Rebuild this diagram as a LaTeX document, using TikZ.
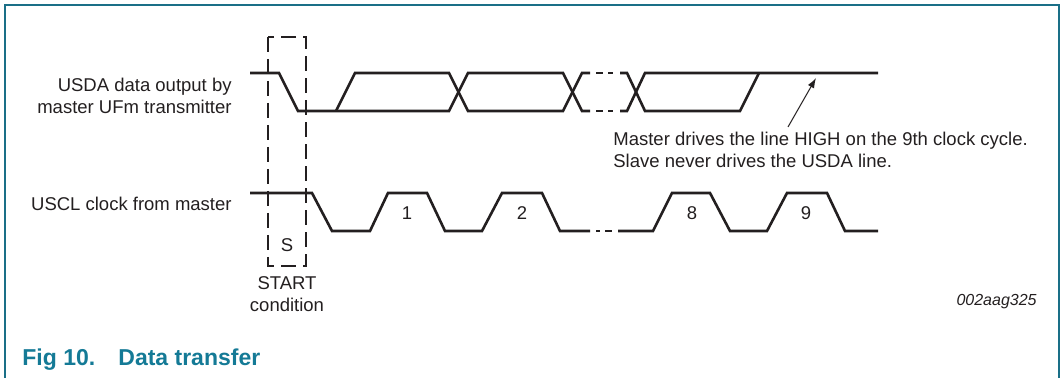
\documentclass[tikz,border=0pt]{standalone}
\usepackage{fontspec}
\setmainfont{Liberation Sans}
\usepackage{xcolor}
\usepackage{tikz}
\usetikzlibrary{arrows.meta, calc}
\definecolor{framecol}{RGB}{26,111,135}
\definecolor{titlecol}{RGB}{20,122,150}
\definecolor{inkcol}{RGB}{35,31,32}
\tikzstyle{signal} = [line width=1.3pt, draw=inkcol, line join=miter]
\tikzstyle{startbox} = [line width=0.6pt, draw=inkcol, dash pattern=on 7.5pt off 3.5pt]
\tikzstyle{legende} = [inner sep=0pt, text=inkcol, font=\fontsize{9.25}{11}\selectfont]
\tikzstyle{titre} = [inner sep=0pt, anchor=base west, text=titlecol, font=\fontsize{11.5}{13}\selectfont\bfseries]

\begin{document}
\begin{tikzpicture}[x=0.5pt, y=-0.5pt]
    \useasboundingbox (0,0) rectangle (1061,378);
    \draw[line width=0.7pt, framecol] (5,378) -- (5,5) -- (1059,5) -- (1059,378);

    % labels
    \node (sdalabel) [legende, anchor=east, align=right] at (232,96) {USDA data output by\\master UFm transmitter};
    \node (scllabel) [legende, anchor=east] at (232,204) {USCL clock from master};

    % USDA
    \draw[signal] (250,73) -- (279,73) -- (298,111) -- (449,111) -- (468,73) -- (563,73) -- (582,111) -- (590,111);
    \draw[signal] (336,111) -- (355,73) -- (449,73) -- (468,111) -- (563,111) -- (582,73) -- (590,73);
    \draw[signal] (596,73) -- (603,73) (608,73) -- (613,73) (596,111) -- (603,111) (608,111) -- (613,111);
    \draw[signal] (620,111) -- (627,111) -- (645,73) -- (878,73);
    \draw[signal] (620,73) -- (627,73) -- (645,111) -- (740,111) -- (759,73);

    % USCL
    \draw[signal] (250,193) -- (312,193) -- (332,231) -- (370,231) -- (388,193) -- (427,193) -- (445,231) -- (482,231) -- (502,193) -- (542,193) -- (560,231) -- (590,231);
    \draw[signal] (596,231) -- (600,231) (605,231) -- (612,231);
    \draw[signal] (618,231) -- (653,231) -- (672,193) -- (710,193) -- (730,231) -- (767,231) -- (787,193) -- (827,193) -- (845,231) -- (878,231);

    \node (bit1) [legende] at (407,213) {1};
    \node (bit2) [legende] at (522,213) {2};
    \node (bit8) [legende] at (692,213) {8};
    \node (bit9) [legende] at (806,213) {9};

    % START
    \draw[startbox] (268,37) rectangle (306,266);
    \node (s) [legende] at (287,245) {S};
    \node (start) [legende, align=center] at (287,294) {START\\condition};

    % note
    \node (note) [legende, anchor=west, align=left] at (613,150) {Master drives the line HIGH on the 9th clock cycle.\\Slave never drives the USDA line.};
    \coordinate (tail) at (788,127);
    \coordinate (tip) at (816,78);
    \draw[-{Latex[length=5pt, width=3.5pt]}, line width=0.5pt, inkcol] (tail) -- (tip);

    \node (code) [inner sep=0pt, text=inkcol, anchor=east, font=\fontsize{8}{10}\selectfont\itshape] at (1037,302) {002aag325};

    % title
    \node (fig) [titre] at (22,366) {Fig 10.};
    \node (caption) [titre] at (118,366) {Data transfer};
\end{tikzpicture}
\end{document}
